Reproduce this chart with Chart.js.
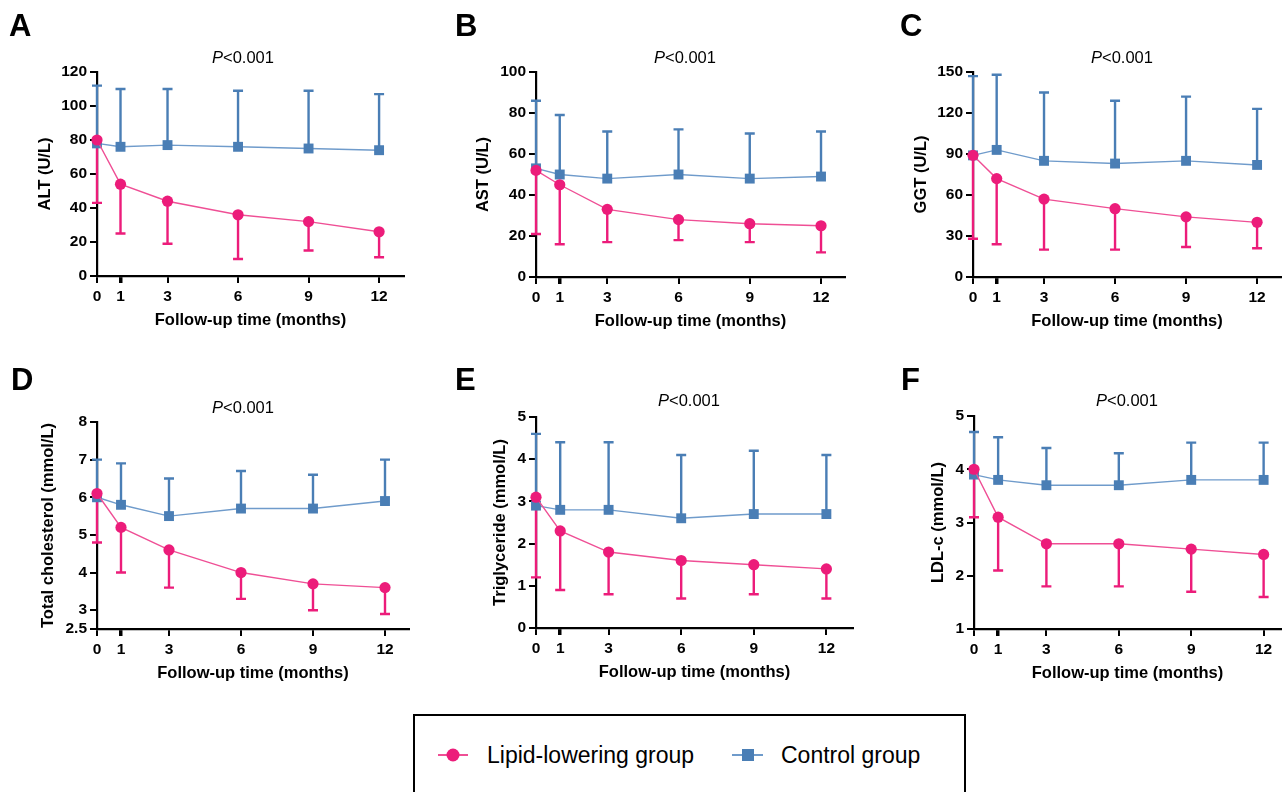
<!DOCTYPE html>
<html>
<head>
<meta charset="utf-8">
<script src="https://cdn.jsdelivr.net/npm/chart.js@4.4.1/dist/chart.umd.min.js"></script>
<style>
  html, body { margin: 0; padding: 0; background: #fff; }
  body { width: 1288px; height: 792px; position: relative; overflow: hidden; font-family: "Liberation Sans", Arial, sans-serif; }
  .cv { position: absolute; }
  .letter { position: absolute; font-weight: bold; font-size: 31px; line-height: 1; color: #000; }
  .pval { position: absolute; font-size: 16.5px; color: #000; transform: translate(-50%, -50%); white-space: nowrap; }
  .legend { position: absolute; left: 413px; top: 714px; width: 553px; height: 120px; border: 2px solid #000; box-sizing: border-box; }
  .lgtxt { position: absolute; font-size: 23px; color: #000; transform: translateY(-50%); white-space: nowrap; }
  .lgline { position: absolute; height: 2px; transform: translateY(-50%); }
  .lgdot { position: absolute; transform: translate(-50%, -50%); }
</style>
</head>
<body>

<script>
// ---------------- DATA ----------------
const months = [0, 1, 3, 6, 9, 12];
const xTicks = [0, 1, 3, 6, 9, 12];
const groupNames = ["Lipid-lowering group", "Control group"];

// A: ALT (U/L)
const altLipid      = [80, 54, 44, 36, 32, 26];
const altLipidLow   = [43, 25, 19, 10, 15, 11];
const altControl    = [78, 76, 77, 76, 75, 74];
const altControlUp  = [112, 110, 110, 109, 109, 107];
const altTicks      = [0, 20, 40, 60, 80, 100, 120];

// B: AST (U/L)
const astLipid      = [52, 45, 33, 28, 26, 25];
const astLipidLow   = [21, 16, 17, 18, 17, 12];
const astControl    = [53, 50, 48, 50, 48, 49];
const astControlUp  = [86, 79, 71, 72, 70, 71];
const astTicks      = [0, 20, 40, 60, 80, 100];

// C: GGT (U/L)
const ggtLipid      = [89, 72, 57, 50, 44, 40];
const ggtLipidLow   = [28, 24, 20, 20, 22, 21];
const ggtControl    = [89, 93, 85, 83, 85, 82];
const ggtControlUp  = [147, 148, 135, 129, 132, 123];
const ggtTicks      = [0, 30, 60, 90, 120, 150];

// D: Total cholesterol (mmol/L)
const tcLipid       = [6.1, 5.2, 4.6, 4.0, 3.7, 3.6];
const tcLipidLow    = [4.8, 4.0, 3.6, 3.3, 3.0, 2.9];
const tcControl     = [6.0, 5.8, 5.5, 5.7, 5.7, 5.9];
const tcControlUp   = [7.0, 6.9, 6.5, 6.7, 6.6, 7.0];
const tcTicks       = [2.5, 3, 4, 5, 6, 7, 8];

// E: Triglyceride (mmol/L)
const tgLipid       = [3.1, 2.3, 1.8, 1.6, 1.5, 1.4];
const tgLipidLow    = [1.2, 0.9, 0.8, 0.7, 0.8, 0.7];
const tgControl     = [2.9, 2.8, 2.8, 2.6, 2.7, 2.7];
const tgControlUp   = [4.6, 4.4, 4.4, 4.1, 4.2, 4.1];
const tgTicks       = [0, 1, 2, 3, 4, 5];

// F: LDL-c (mmol/L)
const ldlLipid      = [4.0, 3.1, 2.6, 2.6, 2.5, 2.4];
const ldlLipidLow   = [3.1, 2.1, 1.8, 1.8, 1.7, 1.6];
const ldlControl    = [3.9, 3.8, 3.7, 3.7, 3.8, 3.8];
const ldlControlUp  = [4.7, 4.6, 4.4, 4.3, 4.5, 4.5];
const ldlTicks      = [1, 2, 3, 4, 5];

const xTitle = "Follow-up time (months)";
const pText = "<0.001";

// ---------------- STYLE ----------------
const PINK = "#EC1C7A";
const PINK_LINE = "#EF4F95";
const BLUE = "#4A7EB5";
const BLUE_LINE = "#6F9BCB";
const FONT = "'Liberation Sans', Arial, sans-serif";

const errorBarPlugin = {
  id: "errbars",
  beforeDatasetsDraw(chart) {
    const ctx = chart.ctx;
    const xs = chart.scales.x, ys = chart.scales.y;
    const dss = chart.data.datasets;
    for (let i = dss.length - 1; i >= 0; i--) {
      const ds = dss[i];
      if (!ds.errEnd) continue;
      ctx.save();
      ctx.strokeStyle = ds.borderColorBar;
      ctx.lineWidth = 2.4;
      ctx.lineCap = "butt";
      ds.data.forEach((p, j) => {
        const x = xs.getPixelForValue(p.x);
        const y0 = ys.getPixelForValue(p.y);
        const y1 = ys.getPixelForValue(ds.errEnd[j]);
        ctx.beginPath();
        ctx.moveTo(x, y0);
        ctx.lineTo(x, y1);
        ctx.moveTo(x - 5, y1);
        ctx.lineTo(x + 5, y1);
        ctx.stroke();
      });
      ctx.restore();
    }
  }
};

function pts(vals) { return months.map((m, i) => ({ x: m, y: vals[i] })); }

function makePanel(p) {
  const cv = document.createElement("canvas");
  cv.className = "cv";
  cv.style.left = p.cl + "px";
  cv.style.top = p.ct + "px";
  cv.style.width = p.cw + "px";
  cv.style.height = p.ch + "px";
  document.body.appendChild(cv);

  const yW = p.axisX - p.cl;
  const xH = 60;
  const titleFontSize = 16.5;
  const lh = titleFontSize * 1.2;

  new Chart(cv, {
    type: "line",
    data: {
      datasets: [
        {
          label: groupNames[0],
          data: pts(p.lipid),
          errEnd: p.lipidLow,
          borderColorBar: PINK,
          borderColor: PINK_LINE,
          borderWidth: 1.4,
          pointStyle: "circle",
          pointRadius: 5.6,
          pointBackgroundColor: PINK,
          pointBorderColor: PINK,
          pointBorderWidth: 0,
          tension: 0,
          clip: false
        },
        {
          label: groupNames[1],
          data: pts(p.control),
          errEnd: p.controlUp,
          borderColorBar: BLUE,
          borderColor: BLUE_LINE,
          borderWidth: 1.4,
          pointStyle: "rect",
          pointRadius: 7,
          pointBackgroundColor: BLUE,
          pointBorderColor: BLUE,
          pointBorderWidth: 0,
          tension: 0,
          clip: false
        }
      ]
    },
    options: {
      responsive: false,
      maintainAspectRatio: false,
      animation: false,
      devicePixelRatio: 1,
      layout: {
        padding: {
          left: 0,
          top: p.axisTop - p.ct,
          right: p.cl + p.cw - p.axisEnd,
          bottom: p.ct + p.ch - (p.axisBottom + xH)
        }
      },
      plugins: { legend: { display: false }, tooltip: { enabled: false }, title: { display: false } },
      scales: {
        x: {
          type: "linear",
          min: 0,
          max: p.xmax,
          afterBuildTicks: s => { s.ticks = xTicks.map(v => ({ value: v })); },
          afterFit: s => { s.height = xH; },
          border: { display: true, color: "#000", width: 2.2 },
          grid: {
            display: true, drawOnChartArea: false, drawTicks: true, tickLength: 7,
            color: "#000",
            lineWidth: c => (c.tick && c.tick.value === 1 ? 3.5 : 2)
          },
          ticks: {
            color: "#000", padding: 4, maxRotation: 0, autoSkip: false,
            font: { family: FONT, size: 15.5, weight: "bold" },
            callback: v => String(v)
          },
          title: {
            display: true, text: xTitle, color: "#000",
            font: { family: FONT, size: titleFontSize, weight: "bold" },
            padding: { top: 0, bottom: 6 }
          }
        },
        y: {
          type: "linear",
          min: p.yTicks[0],
          max: p.yTicks[p.yTicks.length - 1],
          afterBuildTicks: s => { s.ticks = p.yTicks.map(v => ({ value: v })); },
          afterFit: s => { s.width = yW; },
          border: { display: true, color: "#000", width: 2.2 },
          grid: { display: true, drawOnChartArea: false, drawTicks: true, tickLength: 7, color: "#000", lineWidth: 2 },
          ticks: {
            color: "#000", padding: 3, autoSkip: false,
            font: { family: FONT, size: 15.5, weight: "bold" },
            callback: v => String(v)
          },
          title: {
            display: true, text: p.yTitle, color: "#000",
            font: { family: FONT, size: titleFontSize, weight: "bold" },
            padding: { top: yW - p.yTitleDist - lh / 2, bottom: 0 }
          }
        }
      }
    },
    plugins: [errorBarPlugin]
  });

  const pv = document.createElement("div");
  pv.className = "pval";
  pv.style.left = p.px + "px";
  pv.style.top = p.py + "px";
  pv.innerHTML = "<i>P</i>" + pText.replace("<", "&lt;");
  document.body.appendChild(pv);

  const lt = document.createElement("div");
  lt.className = "letter";
  lt.style.left = p.lx + "px";
  lt.style.top = p.ly + "px";
  lt.textContent = p.letter;
  document.body.appendChild(lt);
}

const panels = [
  { letter: "A", lx: 9,   ly: 10,  cl: 0,   ct: 40,  cw: 430, ch: 300, axisX: 97,  axisTop: 72,  axisBottom: 276, axisEnd: 404,  xmax: 13.06,
    yTitle: "ALT (U/L)", yTitleDist: 52, yTicks: altTicks, lipid: altLipid, lipidLow: altLipidLow, control: altControl, controlUp: altControlUp, px: 243, py: 57 },
  { letter: "B", lx: 455, ly: 10,  cl: 430, ct: 40,  cw: 430, ch: 300, axisX: 536, axisTop: 72,  axisBottom: 277, axisEnd: 845,  xmax: 13.01,
    yTitle: "AST (U/L)", yTitleDist: 53, yTicks: astTicks, lipid: astLipid, lipidLow: astLipidLow, control: astControl, controlUp: astControlUp, px: 685, py: 57 },
  { letter: "C", lx: 900, ly: 10,  cl: 860, ct: 40,  cw: 428, ch: 300, axisX: 973, axisTop: 72,  axisBottom: 277, axisEnd: 1282, xmax: 13.01,
    yTitle: "GGT (U/L)", yTitleDist: 52, yTicks: ggtTicks, lipid: ggtLipid, lipidLow: ggtLipidLow, control: ggtControl, controlUp: ggtControlUp, px: 1122, py: 57 },
  { letter: "D", lx: 11,  ly: 364, cl: 0,   ct: 390, cw: 430, ch: 300, axisX: 97,  axisTop: 422, axisBottom: 629, axisEnd: 409,  xmax: 13.0,
    yTitle: "Total cholesterol (mmol/L)", yTitleDist: 49, yTicks: tcTicks, lipid: tcLipid, lipidLow: tcLipidLow, control: tcControl, controlUp: tcControlUp, px: 243, py: 407 },
  { letter: "E", lx: 455, ly: 364, cl: 430, ct: 390, cw: 430, ch: 300, axisX: 536, axisTop: 417, axisBottom: 628, axisEnd: 857,  xmax: 13.1,
    yTitle: "Triglyceride (mmol/L)", yTitleDist: 36, yTicks: tgTicks, lipid: tgLipid, lipidLow: tgLipidLow, control: tgControl, controlUp: tgControlUp, px: 689, py: 400 },
  { letter: "F", lx: 901, ly: 364, cl: 860, ct: 390, cw: 428, ch: 300, axisX: 974, axisTop: 416, axisBottom: 629, axisEnd: 1287, xmax: 12.72,
    yTitle: "LDL-c (mmol/L)", yTitleDist: 36, yTicks: ldlTicks, lipid: ldlLipid, lipidLow: ldlLipidLow, control: ldlControl, controlUp: ldlControlUp, px: 1127, py: 400 }
];

panels.forEach(makePanel);

// ---------------- LEGEND ----------------
const lg = document.createElement("div");
lg.className = "legend";
document.body.appendChild(lg);

function addEl(cls, styles, html) {
  const d = document.createElement("div");
  d.className = cls;
  Object.assign(d.style, styles);
  if (html) d.textContent = html;
  document.body.appendChild(d);
  return d;
}
const LY = 755;
addEl("lgline", { left: "438px", top: LY + "px", width: "30px", background: PINK_LINE });
addEl("lgdot", { left: "453px", top: LY + "px", width: "13px", height: "13px", borderRadius: "50%", background: PINK });
addEl("lgtxt", { left: "487px", top: LY + "px" }, groupNames[0]);
addEl("lgline", { left: "732px", top: LY + "px", width: "31px", background: BLUE_LINE });
addEl("lgdot", { left: "748px", top: LY + "px", width: "12px", height: "12px", background: BLUE });
addEl("lgtxt", { left: "781px", top: LY + "px" }, groupNames[1]);
</script>
</body>
</html>
